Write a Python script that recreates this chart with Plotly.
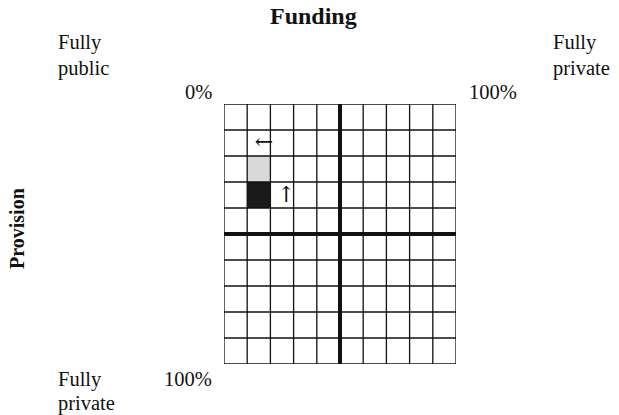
import plotly.graph_objects as go

# Data
n_cells = 10
grid_positions = list(range(0, n_cells + 1))
midline = 5
shaded_cols = [1, 1]
shaded_rows = [3, 2]
shaded_colors = ["#1a1a1a", "#d9d9d9"]
arrow_texts = ["←", "↑"]
arrow_x = [1.72, 2.68]
arrow_y = [1.52, 3.55]

FONT = "Liberation Serif"

fig = go.Figure()

# shaded cells
for c, r, col in zip(shaded_cols, shaded_rows, shaded_colors):
    fig.add_shape(type="rect", xref="x", yref="y", x0=c, x1=c + 1, y0=r, y1=r + 1,
                  fillcolor=col, line=dict(width=0), layer="below")

# thin grid lines
for p in grid_positions:
    fig.add_shape(type="line", xref="x", yref="y", x0=p, x1=p, y0=0, y1=n_cells,
                  line=dict(color="#111111", width=1.3))
    fig.add_shape(type="line", xref="x", yref="y", x0=0, x1=n_cells, y0=p, y1=p,
                  line=dict(color="#111111", width=1.3))

# thick midlines
fig.add_shape(type="line", xref="x", yref="y", x0=midline, x1=midline, y0=0, y1=n_cells,
              line=dict(color="#111111", width=4))
fig.add_shape(type="line", xref="x", yref="y", x0=0, x1=n_cells, y0=midline, y1=midline,
              line=dict(color="#111111", width=4))

# arrows
fig.add_trace(go.Scatter(x=arrow_x, y=arrow_y, mode="text", text=arrow_texts,
                         textfont=dict(family="DejaVu Serif", size=22, color="#111111"),
                         hoverinfo="skip", showlegend=False))

W, H = 619, 415
L, R, T, B = 224, 163, 104, 51

def px(x):
    return (x - L) / (W - L - R)

def py(y):
    return 1 - (y - T) / (H - T - B)

annos = [
    dict(text="<b>Funding</b>", x=px(313), y=py(16), xanchor="center", size=24),
    dict(text="Fully", x=px(56), y=py(43), xanchor="left", size=20.5),
    dict(text="public", x=px(56), y=py(68), xanchor="left", size=20.5),
    dict(text="Fully", x=px(551), y=py(43), xanchor="left", size=20.5),
    dict(text="private", x=px(551), y=py(68), xanchor="left", size=20.5),
    dict(text="0%", x=px(214), y=py(92), xanchor="right", size=20.5),
    dict(text="100%", x=px(467), y=py(92), xanchor="left", size=20.5),
    dict(text="100%", x=px(214), y=py(379), xanchor="right", size=20.5),
    dict(text="Fully", x=px(56), y=py(379), xanchor="left", size=20.5),
    dict(text="private", x=px(56), y=py(403), xanchor="left", size=20.5),
]
for a in annos:
    fig.add_annotation(text=a["text"], x=a["x"], y=a["y"], xref="paper", yref="paper",
                       xanchor=a["xanchor"], yanchor="middle", showarrow=False,
                       font=dict(family=FONT, size=a["size"], color="#111111"))
fig.add_annotation(text="<b>Provision</b>", x=px(17), y=py(229), xref="paper", yref="paper",
                   xanchor="center", yanchor="middle", showarrow=False, textangle=-90,
                   font=dict(family=FONT, size=20, color="#111111"))

fig.update_xaxes(range=[0, n_cells], visible=False, fixedrange=True)
fig.update_yaxes(range=[n_cells, 0], visible=False, fixedrange=True)
fig.update_layout(width=W, height=H, margin=dict(l=L, r=R, t=T, b=B, pad=0),
                  plot_bgcolor="white", paper_bgcolor="white", showlegend=False)

fig.write_html("out.html", config={"displayModeBar": False},
               post_script="document.body.style.margin='0';document.body.style.overflow='hidden';")
